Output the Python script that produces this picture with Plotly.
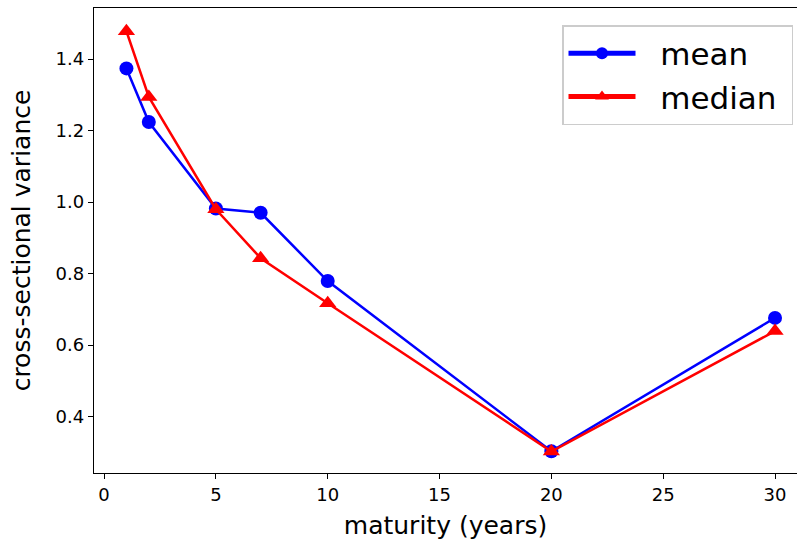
import plotly.graph_objects as go

maturity = [1, 2, 5, 7, 10, 20, 30]
mean_vals = [1.374, 1.224, 0.982, 0.970, 0.779, 0.303, 0.676]
median_vals = [1.478, 1.294, 0.980, 0.843, 0.717, 0.302, 0.639]

W, H = 797, 542
L, R, T, B = 94, 0, 8, 69

fig = go.Figure()
fig.add_trace(go.Scatter(x=maturity, y=mean_vals, mode="lines+markers", name="\u00a0\u00a0mean",
                         line=dict(color="#0000ff", width=2.5),
                         marker=dict(symbol="circle", size=14, color="#0000ff")))
fig.add_trace(go.Scatter(x=maturity, y=median_vals, mode="lines+markers", name="\u00a0\u00a0median\u00a0",
                         line=dict(color="#ff0000", width=2.5),
                         marker=dict(symbol="triangle-up", size=15, color="#ff0000")))

font = "DejaVu Sans"
fig.update_layout(
    width=W, height=H,
    margin=dict(l=L, r=R, t=T, b=B),
    plot_bgcolor="white", paper_bgcolor="white",
    font=dict(family=font, color="black"),
    showlegend=True,
    legend=dict(x=(562 - L) / (W - L - R), y=(H - B - 25) / (H - B - T),
                xanchor="left", yanchor="top",
                bordercolor="#cccccc", borderwidth=1.5, bgcolor="rgba(255,255,255,0.8)",
                font=dict(family=font, size=31), itemsizing="constant", itemwidth=67),
    xaxis=dict(range=[-0.45, (W - R - 103.3) / 22.39], tickvals=[0, 5, 10, 15, 20, 25, 30],
               showgrid=False, zeroline=False, showline=True, linecolor="black", linewidth=1.3,
               mirror=True, ticks="outside", ticklen=5, tickcolor="black", tickwidth=1.3,
               tickfont=dict(size=18),
               title=dict(text="maturity (years)", font=dict(size=25), standoff=12)),
    yaxis=dict(range=[0.242, 1.543], tickvals=[0.4, 0.6, 0.8, 1.0, 1.2, 1.4],
               ticktext=["0.4", "0.6", "0.8", "1.0", "1.2", "1.4"],
               showgrid=False, zeroline=False, showline=True, linecolor="black", linewidth=1.3,
               ticks="outside", ticklen=5, tickcolor="black", tickwidth=1.3,
               tickfont=dict(size=18),
               title=dict(text="cross-sectional variance", font=dict(size=25), standoff=17)),
)
fig.write_html("out.html", config={"displayModeBar": False},
               post_script="document.body.style.margin='0';document.body.style.padding='0';")
